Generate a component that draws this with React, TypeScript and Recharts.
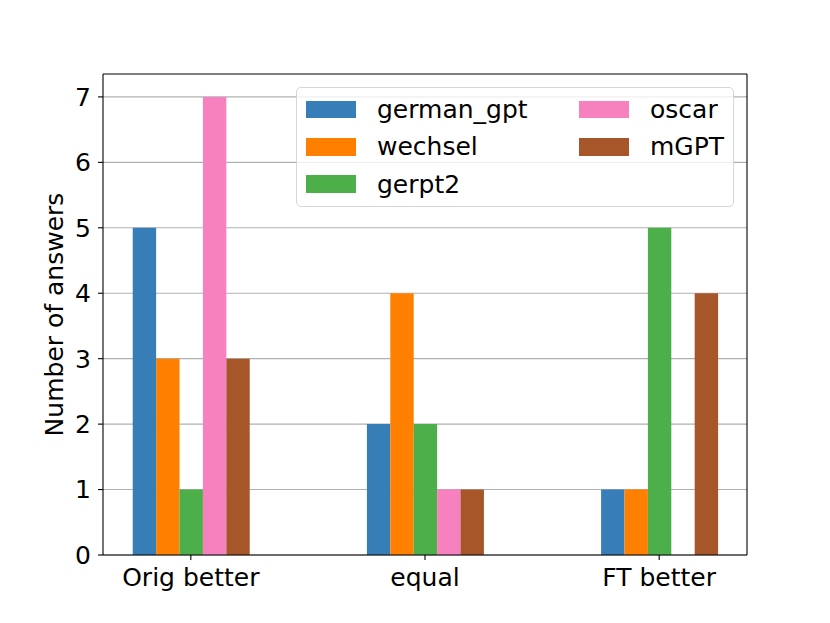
import React from 'react'
import {
  Bar,
  CartesianGrid,
  ComposedChart,
  Legend,
  ReferenceLine,
  XAxis,
  YAxis,
} from 'recharts'

const categories = ['Orig better', 'equal', 'FT better']
const seriesNames = ['german_gpt', 'wechsel', 'gerpt2', 'oscar', 'mGPT']
const seriesColors = ['#377eb8', '#ff7f00', '#4daf4a', '#f781bf', '#a65628']

const germanGpt = [5, 2, 1]
const wechsel = [3, 4, 1]
const gerpt2 = [1, 2, 5]
const oscar = [7, 1, 0]
const mGPT = [3, 1, 4]

const yTicks = [0, 1, 2, 3, 4, 5, 6, 7]

const seriesValues = [germanGpt, wechsel, gerpt2, oscar, mGPT]

const rows = categories.map((category, i) => {
  const row: Record<string, number | string> = { idx: i, category }
  seriesNames.forEach((name, s) => {
    row[name] = seriesValues[s][i]
  })
  return row
})

const X_DOMAIN: [number, number] = [-0.375, 2.375]
const Y_DOMAIN: [number, number] = [0, 7.35]

const FONT = '"DejaVu Sans", sans-serif'
const W = 830
const H = 623

function LegendBox() {
  // matplotlib style, ncol=2, filled column by column
  return (
    <div
      style={{
        width: 438,
        height: 120,
        boxSizing: 'border-box',
        border: '1px solid #d6d6d6',
        borderRadius: 5,
        background: 'rgba(255,255,255,0.8)',
        display: 'grid',
        gridTemplateRows: 'repeat(3, 37.3px)',
        gridTemplateColumns: '273px 150px',
        gridAutoFlow: 'column',
        paddingLeft: 9,
        paddingTop: 3,
        fontFamily: FONT,
        fontSize: 25,
        color: '#000',
      }}
    >
      {seriesNames.map((name, i) => (
        <div key={name} style={{ display: 'flex', alignItems: 'center' }}>
          <span
            style={{
              display: 'inline-block',
              width: 50,
              height: 17.5,
              background: seriesColors[i],
              marginRight: 21,
            }}
          />
          <span style={{ lineHeight: 1 }}>{name}</span>
        </div>
      ))}
    </div>
  )
}

export default function App() {
  return (
    <div style={{ position: 'absolute', left: 0, top: 0, width: W, height: H, background: '#fff' }}>
      <ComposedChart
        width={W}
        height={H}
        data={rows}
        margin={{ top: 74, right: 83, left: 0, bottom: 28 }}
        barGap={0}
        style={{ fontFamily: FONT }}
      >
        <CartesianGrid vertical={false} stroke="#b0b0b0" strokeWidth={1.1} horizontalValues={yTicks} />
        <XAxis
          dataKey="idx"
          type="number"
          domain={X_DOMAIN}
          ticks={[0, 1, 2]}
          allowDataOverflow
          tickFormatter={(v) => categories[Math.round(Number(v))] ?? ''}
          height={40}
          tickSize={5}
          tickMargin={8}
          stroke="#000"
          axisLine={{ stroke: '#000', strokeWidth: 1.1 }}
          tickLine={{ stroke: '#000', strokeWidth: 1.1 }}
          tick={{ fill: '#000', fontSize: 25, fontFamily: FONT }}
        />
        <YAxis
          type="number"
          domain={Y_DOMAIN}
          ticks={yTicks}
          allowDataOverflow
          width={103}
          tickSize={5}
          tickMargin={7}
          axisLine={{ stroke: '#000', strokeWidth: 1.1 }}
          tickLine={{ stroke: '#000', strokeWidth: 1.1 }}
          tick={{ fill: '#000', fontSize: 25, fontFamily: FONT }}
          label={{
            content: ({ viewBox }: any) => {
              const cy = viewBox.y + viewBox.height / 2
              return (
                <text
                  x={54}
                  y={cy}
                  transform={`rotate(-90, 54, ${cy})`}
                  textAnchor="middle"
                  dominantBaseline="central"
                  fontSize={25}
                  fontFamily={FONT}
                  fill="#000"
                >
                  Number of answers
                </text>
              )
            },
          }}
        />
        {seriesNames.map((name, i) => (
          <Bar
            key={name}
            dataKey={name}
            name={name}
            fill={seriesColors[i]}
            barSize={23.4}
            isAnimationActive={false}
          />
        ))}
        {/* top and right spines */}
        <ReferenceLine y={Y_DOMAIN[1]} stroke="#000" strokeWidth={1.1} ifOverflow="visible" />
        <ReferenceLine x={X_DOMAIN[1]} stroke="#000" strokeWidth={1.1} ifOverflow="visible" />
        <Legend
          layout="vertical"
          align="center"
          verticalAlign="middle"
          wrapperStyle={{ left: 296, top: 87, width: 'auto' }}
          content={() => <LegendBox />}
        />
      </ComposedChart>
    </div>
  )
}
